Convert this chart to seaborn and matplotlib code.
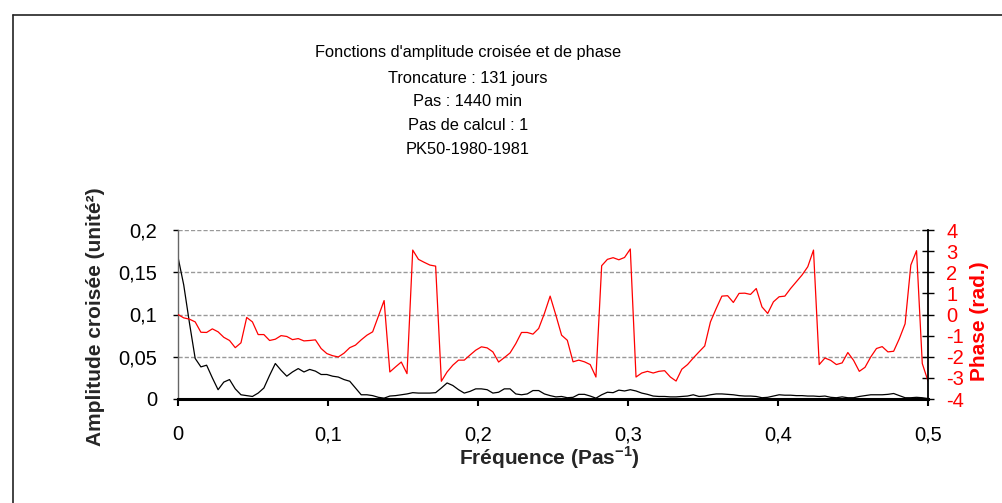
import numpy as np
import pandas as pd
import matplotlib
matplotlib.use("Agg")
import matplotlib.pyplot as plt
from matplotlib.lines import Line2D
import seaborn as sns

# cross amplitude (left axis) and phase (right axis)
amplitude = [0.168, 0.135, 0.09, 0.048, 0.038, 0.040, 0.025, 0.011, 0.020, 0.023,
             0.012, 0.005, 0.004, 0.003, 0.007, 0.013, 0.028, 0.042, 0.034, 0.027,
             0.032, 0.036, 0.032, 0.035, 0.033, 0.029, 0.029, 0.027, 0.026, 0.023,
             0.021, 0.013, 0.005, 0.005, 0.004, 0.002, 0.001, 0.0035, 0.004, 0.005,
             0.006, 0.0075, 0.007, 0.007, 0.007, 0.0075, 0.013, 0.019, 0.016, 0.011,
             0.007, 0.009, 0.012, 0.012, 0.011, 0.007, 0.008, 0.012, 0.012, 0.006,
             0.005, 0.006, 0.010, 0.010, 0.006, 0.004, 0.0025, 0.003, 0.0015, 0.002,
             0.0055, 0.0055, 0.0035, 0.001, 0.005, 0.008, 0.0075, 0.0105, 0.0095, 0.011,
             0.0095, 0.007, 0.0055, 0.0035, 0.003, 0.003, 0.0025, 0.0025, 0.003, 0.0035,
             0.005, 0.003, 0.0035, 0.005, 0.006, 0.006, 0.0055, 0.005, 0.004, 0.0035,
             0.0035, 0.003, 0.0015, 0.002, 0.0035, 0.005, 0.0045, 0.0045, 0.004, 0.004,
             0.0035, 0.0035, 0.003, 0.0035, 0.002, 0.0015, 0.0025, 0.0015, 0.0015, 0.003,
             0.004, 0.005, 0.005, 0.005, 0.0055, 0.0065, 0.004, 0.0015, 0.0015, 0.002,
             0.0015, 0.0005]

phase = [0.0, -0.16, -0.22, -0.35, -0.84, -0.85, -0.68, -0.82, -1.08, -1.23,
         -1.57, -1.34, -0.14, -0.35, -0.95, -0.95, -1.23, -1.17, -1.0, -1.04,
         -1.19, -1.14, -1.25, -1.23, -1.20, -1.61, -1.85, -1.95, -2.01, -1.83,
         -1.57, -1.45, -1.20, -0.98, -0.82, -0.08, 0.66, -2.72, -2.48, -2.25,
         -2.80, 3.05, 2.61, 2.47, 2.34, 2.29, -3.16, -2.72, -2.40, -2.16,
         -2.16, -1.92, -1.69, -1.53, -1.58, -1.77, -2.25, -2.04, -1.82, -1.38,
         -0.85, -0.85, -0.93, -0.66, 0.05, 0.87, -0.03, -0.98, -1.22, -2.24,
         -2.16, -2.24, -2.37, -2.96, 2.31, 2.61, 2.69, 2.59, 2.70, 3.10,
         -2.96, -2.77, -2.69, -2.77, -2.69, -2.66, -2.96, -3.15, -2.59, -2.37,
         -2.06, -1.77, -1.49, -0.35, 0.28, 0.87, 0.89, 0.57, 1.00, 1.01,
         0.95, 1.23, 0.36, 0.05, 0.60, 0.84, 0.87, 1.23, 1.55, 1.87,
         2.26, 3.05, -2.37, -2.06, -2.17, -2.37, -2.29, -1.80, -2.17, -2.69,
         -2.50, -2.01, -1.61, -1.52, -1.77, -1.74, -1.14, -0.44, 2.34, 3.02,
         -2.32, -3.15]

# frequency grid for a 131-day truncation (step 1/262)
troncature = 131
freq = np.arange(len(amplitude)) / (2 * troncature)

title_lines = ["Fonctions d'amplitude croisée et de phase", "Troncature : 131 jours",
               "Pas : 1440 min", "Pas de calcul : 1", "PK50-1980-1981"]
x_ticks = [0, 0.1, 0.2, 0.3, 0.4, 0.5]
x_labels = ["0", "0,1", "0,2", "0,3", "0,4", "0,5"]
amp_ticks = [0, 0.05, 0.1, 0.15, 0.2]
amp_labels = ["0", "0,05", "0,1", "0,15", "0,2"]
phase_ticks = [-4, -3, -2, -1, 0, 1, 2, 3, 4]

df = pd.DataFrame({"freq": freq, "amp": amplitude, "phase": phase})

sns.set_theme(style="white")
plt.rcParams['font.family'] = ['Liberation Sans', 'DejaVu Sans']
plt.rcParams['mathtext.fontset'] = 'custom'
plt.rcParams['mathtext.rm'] = 'Liberation Sans'
plt.rcParams['mathtext.bf'] = 'Liberation Sans:bold'

W, H = 1003, 503
fig = plt.figure(figsize=(W / 100, H / 100), dpi=100)
fig.patch.set_facecolor("white")
ax = fig.add_axes([178 / W, 1 - 399 / H, 750 / W, 169 / H])
ax2 = ax.twinx()

sns.lineplot(data=df, x="freq", y="amp", ax=ax, color="black", linewidth=0.9)
sns.lineplot(data=df, x="freq", y="phase", ax=ax2, color="#ff0000", linewidth=0.9)

ax.set_xlim(0, 0.5)
ax.set_ylim(0, 0.2)
ax2.set_ylim(-4, 4)

ax.set_xticks(x_ticks)
ax.set_xticklabels(x_labels)
ax.set_yticks(amp_ticks)
ax.set_yticklabels(amp_labels)
ax2.set_yticks(phase_ticks)
ax2.set_yticklabels([str(t) for t in phase_ticks])

ax.grid(axis="y", color="#999999", linestyle=(0, (3, 1.5)), linewidth=1)
ax.grid(axis="x", visible=False)
ax2.grid(False)

ax.tick_params(axis="x", direction="out", length=5, width=1.5, pad=14,
               labelsize=14.5, colors="black", bottom=True)
ax.tick_params(axis="y", direction="out", length=3.5, width=1, pad=11.5,
               labelsize=14.5, colors="black", left=True)
ax2.tick_params(axis="y", direction="inout", length=8, width=1, pad=9,
                labelsize=14.5, colors="black", labelcolor="#ff0000", right=True)

for s in ["top", "right"]:
    ax.spines[s].set_visible(False)
for s in ["top", "left", "bottom"]:
    ax2.spines[s].set_visible(False)
ax.spines["left"].set_color("#666666")
ax.spines["left"].set_linewidth(1)
ax.spines["bottom"].set_color("black")
ax.spines["bottom"].set_linewidth(2.2)
ax2.spines["right"].set_color("black")
ax2.spines["right"].set_linewidth(1.3)

ax.set_xlabel(r"Fréquence (Pas$^{\mathbf{-1}}$)", fontsize=15, fontweight="bold")
ax.xaxis.set_label_coords(0.495, -0.268)
ax.set_ylabel("Amplitude croisée (unité²)", fontsize=15, fontweight="bold")
ax.yaxis.set_label_coords(-0.097, 0.49)
ax2.set_ylabel("Phase (rad.)", fontsize=15, fontweight="bold", color="#ff0000")
ax2.yaxis.set_label_coords(1.056, 0.46)

for line, yc in zip(title_lines, [53, 78, 101.5, 126, 150]):
    fig.text(468 / W, 1 - yc / H, line, ha="center", va="center", fontsize=11.8, color="black")

# chart area border
x0, y0 = 13 / W, 1 - 15 / H
fig.add_artist(Line2D([x0, 1], [y0, y0], transform=fig.transFigure, color="#222222", lw=1.2))
fig.add_artist(Line2D([x0, x0], [y0, 0], transform=fig.transFigure, color="#222222", lw=1.2))

fig.savefig("out.png", dpi=100)
